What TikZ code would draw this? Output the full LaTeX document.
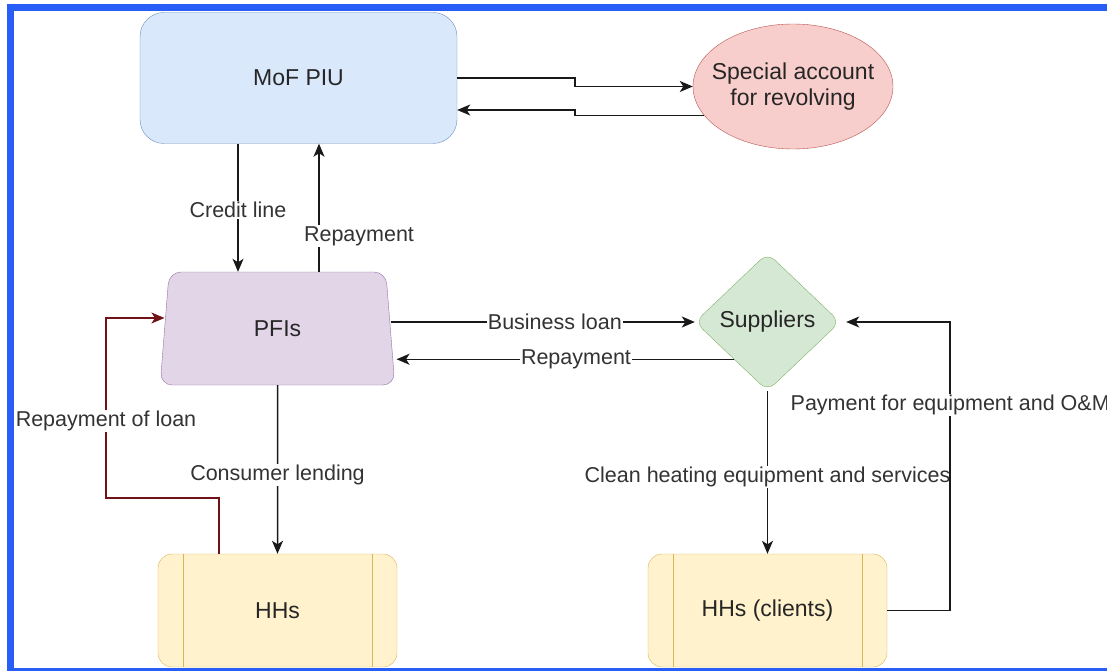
\documentclass[tikz,border=0pt]{standalone}
\usepackage{fontspec}
\setmainfont{Liberation Sans}
\usetikzlibrary{arrows.meta,shapes.geometric}
\definecolor{frameblue}{RGB}{40,94,245}
\definecolor{loanred}{RGB}{112,18,22}
\definecolor{mofline}{RGB}{108,142,191}
\definecolor{moffill}{RGB}{218,232,252}
\definecolor{acctline}{RGB}{184,84,80}
\definecolor{acctfill}{RGB}{248,206,204}
\definecolor{pfiline}{RGB}{150,115,166}
\definecolor{pfifill}{RGB}{225,213,231}
\definecolor{supline}{RGB}{130,179,102}
\definecolor{supfill}{RGB}{213,232,212}
\definecolor{hhline}{RGB}{214,182,86}
\definecolor{hhfill}{RGB}{255,242,204}
\begin{document}
\begin{tikzpicture}[x=1pt,y=-1pt,
    boxtext/.style={text=black!85,font=\fontsize{23}{26}\selectfont,inner sep=0pt},
    mofbox/.style={boxtext,draw=mofline,fill=moffill,
      rounded corners=24pt,minimum width=317,minimum height=131},
    acctbox/.style={boxtext,ellipse,draw=acctline,fill=acctfill,inner xsep=-12pt,
      minimum width=200,minimum height=125,align=center},
    pfibox/.style={boxtext,trapezium,trapezium left angle=83,trapezium right angle=83,
      trapezium stretches=true,draw=pfiline,fill=pfifill,rounded corners=12pt,
      minimum width=235,minimum height=113},
    supbox/.style={boxtext,diamond,aspect=1,draw=supline,fill=supfill,
      rounded corners=10pt,minimum width=145,minimum height=138},
    hhbox/.style={boxtext,rectangle,draw=hhline,fill=hhfill,rounded corners=14pt,
      minimum width=239,minimum height=113,
      path picture={
        \draw[hhline,line width=0.8pt]
          ([xshift=25pt]path picture bounding box.north west)--([xshift=25pt]path picture bounding box.south west)
          ([xshift=-25pt]path picture bounding box.north east)--([xshift=-25pt]path picture bounding box.south east);}},
    flow/.style={draw=black!90,line width=1.5pt,-{Stealth[length=13pt,width=11pt,inset=3.5pt]}},
    loanflow/.style={flow,draw=loanred},
    lbl/.style={fill=white,text=black!80,inner sep=1pt,font=\fontsize{21.5}{24}\selectfont}]
  \useasboundingbox (0,0) rectangle (1107,671);

  \node[mofbox] (mof) at (298.5,78) {MoF PIU};
  \node[acctbox] (acct) at (793,86.5) {Special account\\for revolving};
  \node[pfibox] (pfi) at (277.5,328.5) {PFIs};
  \node[supbox] (sup) at (767.5,322) {Suppliers};
  \node[hhbox] (hh) at (277.5,610.5) {HHs};
  \node[hhbox] (hhc) at (767.5,610.5) {HHs (clients)};

  \draw[flow] (mof.east) -| (575,86.5) -- (acct.west);
  \draw[flow] (acct.198) -| (575,110) -- (575,110 -| mof.east);

  \draw[flow] (mof.south -| 238,0) -- node[lbl,pos=0.52] {Credit line} (pfi.north -| 238,0);
  \draw[flow] (pfi.north -| 319,0) -- node[lbl,pos=0.28,xshift=40] {Repayment} (mof.south -| 319,0);

  \draw[flow] (pfi.east |- sup.west) -- node[lbl,pos=0.54] {Business loan} (sup.west);
  \draw[flow,shorten >=6pt] (sup.228) -- node[lbl,pos=0.46] {Repayment} (sup.228 -| pfi.east);

  \draw[flow] (pfi.south) -- node[lbl,pos=0.53] {Consumer lending} (hh.north);
  \draw[loanflow] (hh.north -| 219,0) |- (106,498)
    -- node[lbl,pos=0.43] {Repayment of loan} (106,318) -- (pfi.west |- 0,318);

  \draw[flow] (sup.south) -- node[lbl,pos=0.53] {Clean heating equipment and services} (hhc.north);
  \draw[flow,shorten >=6pt] (hhc.east) -- ++(63,0)
    |- node[lbl,pos=0.356] {Payment for equipment and O\&M} (sup.east);

  \draw[frameblue,line width=7pt] (1115,7.5) -- (10.5,7.5) -- (10.5,671.5) -- (1115,671.5);
\end{tikzpicture}
\end{document}
